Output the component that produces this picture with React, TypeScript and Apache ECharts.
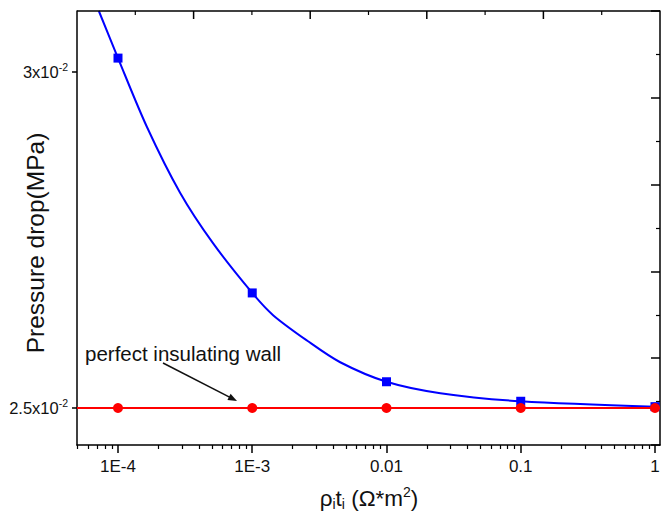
import React, { useEffect, useRef } from "react";
import * as echarts from "echarts";

const FONT = "'Liberation Sans', Arial, sans-serif";

// x tick values (real units) and their labels
const xTicks = [1e-4, 1e-3, 0.01, 0.1, 1];
const xTickLabels = ["1E-4", "1E-3", "0.01", "0.1", "1"];
// y tick values and labels
const yTickValues = [0.025, 0.03];
const yTickLabels = ["{b|2.5x10}{s|-2}", "{b|3x10}{s|-2}"];
// mirror-frame tick positions on the top frame (fraction of the frame width)
const topMajorTicks = [0.2, 0.4, 0.6, 0.8];
const topMinorTicks = [0.1, 0.3, 0.5, 0.7, 0.9];

// data points (markers)
const pointX = [1e-4, 1e-3, 0.01, 0.1, 1];
const bluePoints = [0.0302, 0.02671, 0.02539, 0.0251, 0.02502];
const redPoints = [0.025, 0.025, 0.025, 0.025, 0.025];

// fitted blue curve
const curveX = [7.2e-5, 1e-4, 1.64e-4, 2.9e-4, 5.1e-4, 1e-3, 1.43e-3, 2.57e-3, 4.52e-3, 0.01, 0.0252, 0.1, 1];
const curveY = [0.0309, 0.0302, 0.02918, 0.0282, 0.02745, 0.02671, 0.02638, 0.026, 0.02568, 0.02539, 0.02522, 0.0251, 0.02502];

const X_MIN = 4.95e-5;
const X_MAX = 1.09;
const Y_MIN = 0.02445;
const Y_MAX = 0.0309;

const lg = (v: number) => Math.log10(v);

export default function App() {
  const ref = useRef<HTMLDivElement>(null);
  useEffect(() => {
    if (!ref.current) return;
    const chart = echarts.init(ref.current, undefined, { renderer: "svg" });
    const minorTicks: number[] = [];
    for (let k = -5; k <= 0; k++) {
      for (let m = 2; m <= 9; m++) {
        const v = m * Math.pow(10, k);
        if (v >= X_MIN && v <= X_MAX) minorTicks.push(lg(v));
      }
    }
    const xMajor = xTicks.map(lg);
    const lgMin = lg(X_MIN);
    const lgMax = lg(X_MAX);
    const frac = (f: number) => lgMin + f * (lgMax - lgMin);
    const black = "#000";
    const gridBox = { left: 77, right: 6, top: 11, bottom: 73, containLabel: false };
    const baseGraphic: any[] = [
      {
        type: "text",
        x: 35,
        y: 243,
        rotation: Math.PI / 2,
        style: {
          text: "Pressure drop(MPa)",
          fontSize: 24.5,
          fontFamily: FONT,
          fill: "#111",
          align: "center",
          verticalAlign: "middle",
        },
      },
      {
        type: "text",
        x: 369,
        y: 498,
        style: {
          text: "{b|ρ}{sub|i}{b|t}{sub|i}{b| (Ω*m}{sup|2}{b|)}",
          align: "center",
          verticalAlign: "middle",
          rich: {
            b: { fontSize: 22.5, fontFamily: FONT, fill: "#111", lineHeight: 26, verticalAlign: "middle" },
            sub: { fontSize: 14, fontFamily: FONT, fill: "#111", lineHeight: 14, padding: [14, 0, 0, 0], verticalAlign: "bottom" },
            sup: { fontSize: 14, fontFamily: FONT, fill: "#111", lineHeight: 14, padding: [0, 0, 14, 0], verticalAlign: "top" },
          },
        },
      },
      {
        type: "text",
        x: 85,
        y: 353,
        style: {
          text: "perfect insulating wall",
          fontSize: 20.5,
          fontFamily: FONT,
          fill: "#111",
          align: "left",
          verticalAlign: "middle",
        },
      },
      {
        type: "line",
        shape: { x1: 163, y1: 363, x2: 230, y2: 397.4 },
        style: { stroke: "#111", lineWidth: 1.5 },
      },
      {
        type: "polygon",
        shape: { points: [[237, 401], [227.4, 400.0], [230.6, 393.8]] },
        style: { fill: "#111" },
      },
    ];
    const option: any = {
      animation: false,
      backgroundColor: "#fff",
      grid: [gridBox, gridBox],
      xAxis: [
        {
          type: "value",
          gridIndex: 0,
          position: "bottom",
          min: lgMin,
          max: lgMax,
          axisLine: { show: true, onZero: false, lineStyle: { color: black, width: 1.5 } },
          axisTick: { show: true, inside: false, length: 8, customValues: xMajor, lineStyle: { color: black, width: 1.5 } },
          axisLabel: {
            show: true,
            customValues: xMajor,
            margin: 13,
            color: "#111",
            fontSize: 17,
            fontFamily: FONT,
            formatter: (v: number) => {
              const i = xMajor.findIndex((t) => Math.abs(t - v) < 1e-6);
              return i >= 0 ? xTickLabels[i] : "";
            },
          },
          splitLine: { show: false },
        },
        {
          type: "value",
          gridIndex: 1,
          position: "bottom",
          min: lgMin,
          max: lgMax,
          axisLine: { show: false, onZero: false },
          axisTick: { show: true, inside: false, length: 4, customValues: minorTicks, lineStyle: { color: black, width: 1.2 } },
          axisLabel: { show: false },
          splitLine: { show: false },
        },
      ],
      yAxis: [
        {
          type: "value",
          gridIndex: 0,
          position: "left",
          min: Y_MIN,
          max: Y_MAX,
          axisLine: { show: true, onZero: false, lineStyle: { color: black, width: 1.5 } },
          axisTick: { show: true, inside: false, length: 5, customValues: yTickValues, lineStyle: { color: black, width: 1.5 } },
          axisLabel: {
            show: true,
            customValues: yTickValues,
            margin: 9,
            formatter: (v: number) => {
              const i = yTickValues.findIndex((t) => Math.abs(t - v) < 1e-7);
              return i >= 0 ? yTickLabels[i] : "";
            },
            rich: {
              b: { fontSize: 16.5, fontFamily: FONT, color: "#111", lineHeight: 20, verticalAlign: "middle" },
              s: { fontSize: 10.5, fontFamily: FONT, color: "#111", lineHeight: 10, padding: [0, 0, 10, 0], verticalAlign: "top" },
            },
          },
          splitLine: { show: false },
        },
        {
          type: "value",
          gridIndex: 1,
          position: "right",
          min: 0,
          max: 5,
          interval: 1,
          axisLine: { show: true, onZero: false, lineStyle: { color: black, width: 1.5 } },
          axisTick: { show: true, inside: true, length: 9, lineStyle: { color: black, width: 1.5 } },
          minorTick: { show: true, splitNumber: 2, length: 4, lineStyle: { color: black, width: 1.2 } },
          axisLabel: { show: false },
          splitLine: { show: false },
          minorSplitLine: { show: false },
        },
      ],
      series: [
        {
          // top frame line
          type: "line",
          name: "topFrame",
          xAxisIndex: 0,
          yAxisIndex: 0,
          data: [
            [lgMin, Y_MAX],
            [lgMax, Y_MAX],
          ],
          showSymbol: false,
          symbol: "none",
          clip: false,
          silent: true,
          lineStyle: { color: black, width: 1.5 },
          z: 6,
        },
        {
          type: "line",
          name: "curve",
          xAxisIndex: 0,
          yAxisIndex: 0,
          data: curveX.map((x, i) => [lg(x), curveY[i]]),
          smooth: 0.3,
          showSymbol: false,
          symbol: "none",
          clip: true,
          lineStyle: { color: "#0000ff", width: 2 },
          z: 2,
        },
        {
          type: "scatter",
          name: "blue",
          xAxisIndex: 0,
          yAxisIndex: 0,
          data: pointX.map((x, i) => [lg(x), bluePoints[i]]),
          symbol: "rect",
          symbolSize: 9,
          itemStyle: { color: "#0000ff", opacity: 1 },
          z: 3,
        },
        {
          type: "line",
          name: "wall",
          xAxisIndex: 0,
          yAxisIndex: 0,
          data: [
            [lgMin, redPoints[0]],
            [lgMax, redPoints[redPoints.length - 1]],
          ],
          showSymbol: false,
          symbol: "none",
          lineStyle: { color: "#ff0000", width: 2 },
          z: 4,
        },
        {
          type: "scatter",
          name: "red",
          xAxisIndex: 0,
          yAxisIndex: 0,
          data: pointX.map((x, i) => [lg(x), redPoints[i]]),
          symbol: "circle",
          symbolSize: 10,
          itemStyle: { color: "#ff0000", opacity: 1 },
          z: 5,
        },
      ],
      graphic: baseGraphic,
    };
    chart.setOption(option);

    // top-frame inward ticks, placed through the grid's own coordinate conversion
    const tickLines: any[] = [];
    const addTicks = (list: number[], len: number, w: number) => {
      list.forEach((f) => {
        const p = chart.convertToPixel({ gridIndex: 0 }, [frac(f), Y_MAX]) as number[];
        if (p && isFinite(p[0]) && isFinite(p[1])) {
          tickLines.push({
            type: "line",
            z: 100,
            shape: { x1: p[0], y1: p[1], x2: p[0], y2: p[1] + len },
            style: { stroke: black, lineWidth: w },
          });
        }
      });
    };
    addTicks(topMajorTicks, 8, 1.5);
    addTicks(topMinorTicks, 4, 1.2);
    chart.setOption({ graphic: baseGraphic.concat(tickLines) });

    return () => chart.dispose();
  }, []);
  return (
    <div
      ref={ref}
      style={{ position: "fixed", left: 0, top: 0, width: 666, height: 518, background: "#fff" }}
    />
  );
}
